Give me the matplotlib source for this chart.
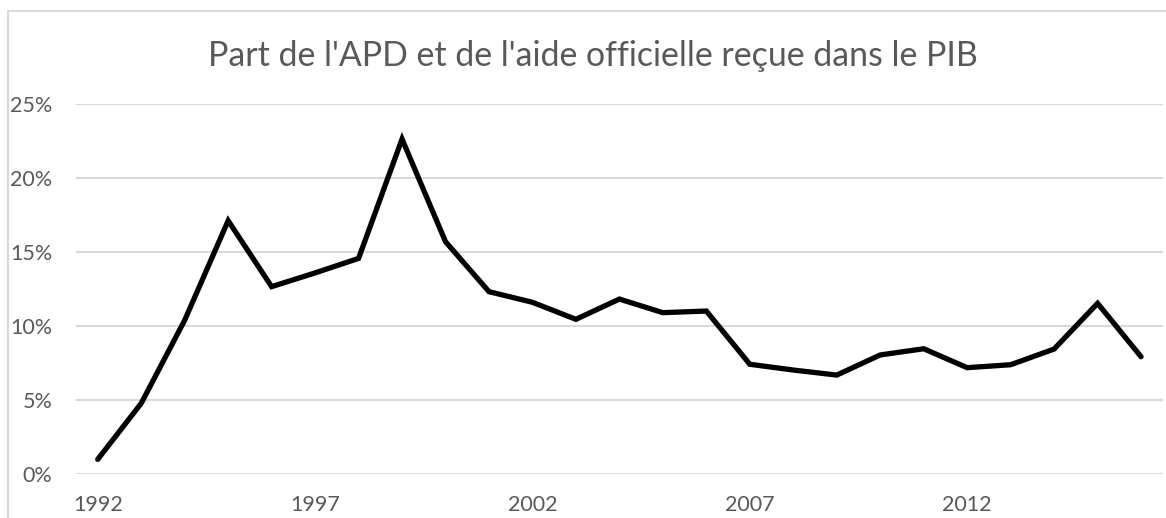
import matplotlib
matplotlib.use("Agg")
import matplotlib.pyplot as plt
from matplotlib.patches import Rectangle
from matplotlib.ticker import FuncFormatter

plt.rcParams['font.family'] = ['Lato', 'DejaVu Sans']

# data
years = list(range(1992, 2017))
share = [0.99, 4.78, 10.4, 17.13, 12.67, 13.6, 14.58, 22.65, 15.71, 12.33,
         11.61, 10.46, 11.83, 10.91, 11.02, 7.42, 7.03, 6.69, 8.05, 8.47,
         7.19, 7.39, 8.45, 11.54, 7.93]  # %
title = "Part de l'APD et de l'aide officielle reçue dans le PIB"

W, H = 1166, 518
fig = plt.figure(figsize=(W / 100, H / 100), dpi=100)
ax = fig.add_axes([76 / W, 1 - 474 / H, (1162.8 - 76) / W, (474 - 104.3) / H])

x = list(range(len(years)))
ax.plot(x, [v / 100 for v in share], color='black', lw=3.8,
        solid_capstyle='round', solid_joinstyle='miter', zorder=3)

ax.set_xlim(-0.5, len(years) - 0.5)
ax.set_ylim(0, 0.25)
ax.set_yticks([0, 0.05, 0.10, 0.15, 0.20, 0.25])
ax.yaxis.set_major_formatter(FuncFormatter(lambda v, p: '{:.0f}%'.format(v * 100)))
ax.set_xticks(x[::5])
ax.set_xticklabels([str(y) for y in years[::5]])

ax.grid(axis='y', color='#d9d9d9', lw=1.5, zorder=0)
for s in ax.spines.values():
    s.set_visible(False)
ax.tick_params(axis='both', length=0, colors='#595959', labelsize=15.5)
ax.tick_params(axis='y', pad=17)
ax.tick_params(axis='x', pad=15)

fig.text(593 / W, 1 - 56 / H, title, ha='center', va='center',
         fontsize=24.4, color='#595959')

# chart border (partly cropped in the reference)
fig.patches.append(Rectangle((7.5 / W, -0.1), 1.2, 1 - 11.5 / H + 0.1,
                             transform=fig.transFigure, fill=False,
                             edgecolor='#d9d9d9', lw=1.5))

fig.savefig('out.png', dpi=100)
